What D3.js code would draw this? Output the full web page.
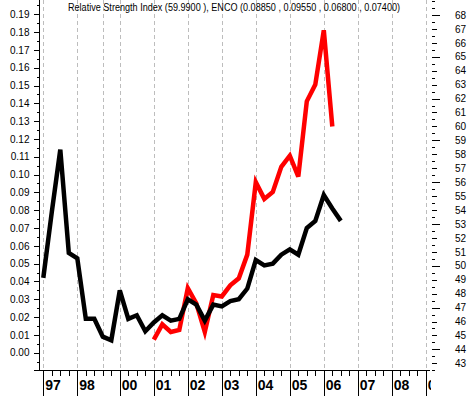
<!DOCTYPE html>
<html>
<head>
<meta charset="utf-8">
<script src="https://cdn.jsdelivr.net/npm/d3@7"></script>
<style>
  body { margin: 0; background: #fff; }
  svg { display: block; }
  text { font-family: "Liberation Sans", Arial, sans-serif; }
</style>
</head>
<body>
<svg width="469" height="396"></svg>
<script>
"use strict";
// quarterly periods (index axis, gaps in 98/99)
var periods = ["97a","97b","97c","97d","98a","98b","98c","99a","99b",
  "00a","00b","00c","00d","01a","01b","01c","01d","02a","02b","02c","02d",
  "03a","03b","03c","03d","04a","04b","04c","04d","05a","05b","05c","05d",
  "06a","06b","06c","06d","07a","07b","07c","07d","08a","08b","08c","08d","09a"];
var yearLabels = ["97","98","99","00","01","02","03","04","05","06","07","08","09"];
var hiddenYearLabels = ["99"];
// ENCO price (left axis)
var price = [0.042,0.079,0.114,0.056,0.053,0.019,0.019,0.009,0.007,
  0.035,0.019,0.021,0.012,0.017,0.021,0.018,0.019,0.030,0.027,0.018,0.027,
  0.026,0.029,0.030,0.036,0.052,0.049,0.050,0.055,0.058,0.055,0.070,0.074,
  0.0885,0.081,0.074];
// RSI (right axis), starts at period index 13
var rsiStart = 13;
var rsi = [44.7,45.8,45.25,45.4,48.4,47.3,45.25,47.9,47.8,48.6,49.1,50.8,
  56.0,54.8,55.3,57.1,57.9,56.4,61.8,63.0,66.9,59.99];
var leftTicks = [0,0.01,0.02,0.03,0.04,0.05,0.06,0.07,0.08,0.09,0.10,
  0.11,0.12,0.13,0.14,0.15,0.16,0.17,0.18,0.19];
var rightTicks = [43,44,45,46,47,48,49,50,51,52,53,54,55,56,57,58,59,60,
  61,62,63,64,65,66,67,68];
var title = "Relative Strength Index (59.9900 ), ENCO (0.08850 , 0.09550 , 0.06800 , 0.07400)";

var svg = d3.select('svg');
var axisY = 370;

var x = d3.scalePoint().domain(periods).range([43.3, 425.8]);
var yL = d3.scaleLinear().domain([-0.01, 0.198]).range([370.5, 0]);
var yR = d3.scaleLinear().domain([42.5, 69]).range([370.3, 1]);

// year starts
var yearStarts = yearLabels.map(function (y) {
  return periods.find(function (p) { return p.slice(0, 2) === y; });
});

// dashed gridlines
svg.append('g').selectAll('line').data(yearStarts).enter().append('line')
  .attr('x1', function (d) { return Math.round(x(d)) + 0.5; })
  .attr('x2', function (d) { return Math.round(x(d)) + 0.5; })
  .attr('y1', 0).attr('y2', axisY)
  .attr('stroke', '#bdbdbd')
  .attr('stroke-dasharray', '4,3');

function styleAxis(g) {
  g.attr('font-family', null);
  g.selectAll('text').attr('font-size', '10px').attr('fill', '#000');
  g.selectAll('line,path').attr('stroke', '#000').attr('shape-rendering', 'crispEdges');
}

// left axis
var minorL = leftTicks.map(function (d) { return d - 0.005; }).concat([0.195]);
var leftMinor = svg.append('g').attr('transform', 'translate(39.5,0)')
  .call(d3.axisLeft(yL).tickValues(minorL).tickSize(3).tickFormat(''));
leftMinor.select('.domain').remove();
var leftG = svg.append('g').attr('transform', 'translate(39.5,0)')
  .call(d3.axisLeft(yL).tickValues(leftTicks).tickSize(6).tickPadding(4)
    .tickFormat(d3.format('.2f')));
leftG.select('.domain').attr('d', 'M-6,' + yL(-0.01) + 'H0V0').attr('fill', 'none');
styleAxis(leftMinor);
styleAxis(leftG);

// right axis
var halfR = rightTicks.map(function (d) { return d - 0.5; }).concat([68.5, 69]);
var thirdR = rightTicks.filter(function (d) { return (68 - d) % 3 === 0; });
var rightHalf = svg.append('g').attr('transform', 'translate(432,0)')
  .call(d3.axisRight(yR).tickValues(halfR).tickSize(3).tickFormat(''));
var rightG = svg.append('g').attr('transform', 'translate(432,0)')
  .call(d3.axisRight(yR).tickValues(rightTicks).tickSize(5).tickPadding(18));
var rightThird = svg.append('g').attr('transform', 'translate(432,0)')
  .call(d3.axisRight(yR).tickValues(thirdR).tickSize(8).tickFormat(''));
[rightHalf, rightG, rightThird].forEach(function (g) {
  g.select('.domain').remove();
  styleAxis(g);
});

// bottom axis
var bottomG = svg.append('g').attr('transform', 'translate(0,' + axisY + ')');
bottomG.append('line').attr('x1', 39.5).attr('x2', 430).attr('y1', 0.5).attr('y2', 0.5)
  .attr('stroke', '#000');
bottomG.selectAll('line.q').data(periods).enter().append('line')
  .attr('class', 'q')
  .attr('x1', function (d) { return Math.round(x(d)) + 0.5; })
  .attr('x2', function (d) { return Math.round(x(d)) + 0.5; })
  .attr('y1', 0).attr('y2', function (d) {
    var yr = d.slice(0, 2);
    return (yearStarts.indexOf(d) >= 0 && hiddenYearLabels.indexOf(yr) < 0) ? 26 : 6;
  })
  .attr('stroke', '#000');
svg.append('clipPath').attr('id', 'xclip').append('rect')
  .attr('x', 0).attr('y', axisY).attr('width', 431).attr('height', 30);
bottomG.append('g').attr('clip-path', 'url(#xclip)').attr('transform', 'translate(0,' + (-axisY) + ')')
  .selectAll('text').data(yearLabels.filter(function (d) { return hiddenYearLabels.indexOf(d) < 0; }))
  .enter().append('text')
  .attr('x', function (d) { return x(yearStarts[yearLabels.indexOf(d)]) + 2; })
  .attr('y', axisY + 20)
  .attr('font-size', '14px')
  .attr('font-weight', 'bold')
  .text(function (d) { return d; });

// lines
var line = d3.line()
  .x(function (d) { return x(periods[d.i]); })
  .y(function (d) { return d.y; });
var rsiPts = rsi.map(function (v, i) { return { i: i + rsiStart, y: yR(v) }; });
var pricePts = price.map(function (v, i) { return { i: i, y: yL(v) }; });
svg.append('path').attr('d', line(rsiPts))
  .attr('fill', 'none').attr('stroke', '#ff0000').attr('stroke-width', 4.5);
svg.append('path').attr('d', line(pricePts))
  .attr('fill', 'none').attr('stroke', '#000').attr('stroke-width', 4.5);

// title
svg.append('text')
  .attr('x', 68).attr('y', 11)
  .attr('font-size', '10px')
  .attr('textLength', 332)
  .attr('lengthAdjust', 'spacingAndGlyphs')
  .text(title);
</script>
</body>
</html>
